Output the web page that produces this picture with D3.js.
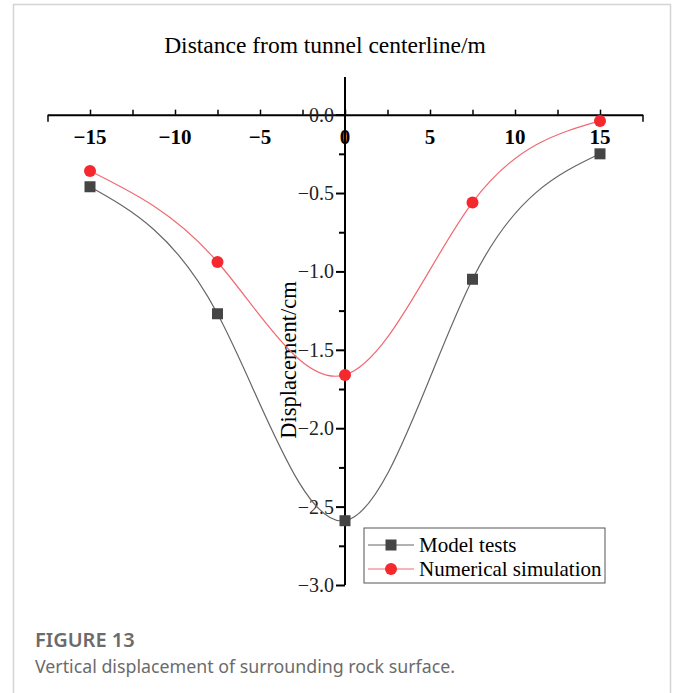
<!DOCTYPE html>
<html lang="en">
<head>
<meta charset="utf-8">
<title>Vertical displacement</title>
<script src="https://cdn.jsdelivr.net/npm/d3@7"></script>
<style>
body { margin: 0; background: #fff; }
.serif { font-family: "Liberation Serif", "Times New Roman", serif; }
.cap { font-family: "Noto Sans", "Open Sans", sans-serif; fill: #6b6b6b; }
</style>
</head>
<body>
<script>
// data
var distance = [-15, -7.5, 0, 7.5, 15];
var modelTests = [-0.46, -1.27, -2.59, -1.05, -0.25];
var numericalSim = [-0.36, -0.94, -1.66, -0.56, -0.04];
var xTicks = [-15, -10, -5, 0, 5, 10, 15];
var yTicks = [0, -0.5, -1, -1.5, -2, -2.5, -3];

var w = 680, h = 693;

var svg = d3.select("body").append("svg")
  .attr("width", w)
  .attr("height", h);

// card frame
svg.append("rect")
  .attr("x", 13.5).attr("y", 4.5)
  .attr("width", 657).attr("height", 720)
  .attr("fill", "none")
  .attr("stroke", "#d4d4d4")
  .attr("stroke-width", 1.5);

var xScale = d3.scaleLinear().domain([-17.5, 17.5]).range([47.5, 642.5]);
var yScale = d3.scaleLinear().domain([0.24, -3]).range([77, 585]);

var x0 = xScale(0), y0 = yScale(0);

// title on top
svg.append("text")
  .attr("class", "serif")
  .attr("x", 325).attr("y", 53)
  .attr("text-anchor", "middle")
  .attr("font-size", 23.5)
  .text("Distance from tunnel centerline/m");

// x axis (ticks up)
var xAxis = d3.axisTop(xScale)
  .tickValues(d3.range(-17.5, 17.6, 2.5))
  .tickSize(5)
  .tickSizeOuter(0)
  .tickFormat("");
var gx = svg.append("g")
  .attr("transform", "translate(0," + y0 + ")")
  .call(xAxis);
gx.select(".domain").attr("stroke-width", 2);
gx.selectAll(".tick line").attr("stroke-width", 1.5);
// end ticks drop down
gx.selectAll(".tick line")
  .filter(function(d) { return Math.abs(d) > 17; })
  .attr("y2", 7);

svg.append("g").selectAll("text")
  .data(xTicks)
  .enter().append("text")
  .attr("class", "serif")
  .attr("x", function(d) { return xScale(d); })
  .attr("y", y0 + 29)
  .attr("text-anchor", "middle")
  .attr("font-size", 21)
  .attr("font-weight", "bold")
  .text(function(d) { return d < 0 ? "\u2212" + (-d) : d; });

// y axis (ticks left)
var yAxis = d3.axisLeft(yScale)
  .tickValues(d3.range(0, -3.01, -0.25))
  .tickSize(0)
  .tickFormat("");
var gy = svg.append("g")
  .attr("transform", "translate(" + x0 + ",0)")
  .call(yAxis);
gy.select(".domain").attr("stroke-width", 2).attr("d", "M0," + yScale(0.24) + "V" + yScale(-3));
gy.selectAll(".tick line")
  .attr("stroke-width", 2)
  .attr("x2", function(d) { return Math.round(d * 4) % 2 === 0 ? -9 : -6; });

svg.append("g").selectAll("text")
  .data(yTicks)
  .enter().append("text")
  .attr("class", "serif")
  .attr("x", x0 - 11)
  .attr("y", function(d) { return yScale(d) + 7; })
  .attr("text-anchor", "end")
  .attr("font-size", 20)
  .attr("fill", "#222")
  .text(function(d) { return (d < 0 ? "\u2212" : "") + Math.abs(d).toFixed(1); });

svg.append("text")
  .attr("class", "serif")
  .attr("transform", "translate(296,360) rotate(-90)")
  .attr("text-anchor", "middle")
  .attr("font-size", 22.5)
  .text("Displacement/cm");

// curves
var line = d3.line()
  .x(function(d) { return xScale(d[0]); })
  .y(function(d) { return yScale(d[1]); })
  .curve(d3.curveNatural);

var modelPts = d3.zip(distance, modelTests);
var numPts = d3.zip(distance, numericalSim);

svg.append("path")
  .attr("d", line(modelPts))
  .attr("fill", "none")
  .attr("stroke", "#666")
  .attr("stroke-width", 1.2);

svg.append("path")
  .attr("d", line(numPts))
  .attr("fill", "none")
  .attr("stroke", "#f06a72")
  .attr("stroke-width", 1.2);

svg.append("g").selectAll("rect")
  .data(modelPts)
  .enter().append("rect")
  .attr("x", function(d) { return xScale(d[0]) - 5.5; })
  .attr("y", function(d) { return yScale(d[1]) - 5.5; })
  .attr("width", 11).attr("height", 11)
  .attr("fill", "#454545");

svg.append("g").selectAll("circle")
  .data(numPts)
  .enter().append("circle")
  .attr("cx", function(d) { return xScale(d[0]); })
  .attr("cy", function(d) { return yScale(d[1]); })
  .attr("r", 6)
  .attr("fill", "#f5282d");

// legend
var lg = svg.append("g").attr("transform", "translate(364,528)");
lg.append("rect")
  .attr("width", 241).attr("height", 55)
  .attr("fill", "#fff")
  .attr("stroke", "#555")
  .attr("stroke-width", 1);
lg.append("line").attr("x1", 4).attr("x2", 50).attr("y1", 17).attr("y2", 17)
  .attr("stroke", "#666").attr("stroke-width", 1.2);
lg.append("rect").attr("x", 21.5).attr("y", 11.5).attr("width", 11).attr("height", 11)
  .attr("fill", "#454545");
lg.append("line").attr("x1", 4).attr("x2", 50).attr("y1", 41).attr("y2", 41)
  .attr("stroke", "#f06a72").attr("stroke-width", 1.2);
lg.append("circle").attr("cx", 27).attr("cy", 41).attr("r", 6).attr("fill", "#f5282d");
lg.append("text").attr("class", "serif").attr("x", 55).attr("y", 24)
  .attr("font-size", 21).text("Model tests");
lg.append("text").attr("class", "serif").attr("x", 55).attr("y", 48)
  .attr("font-size", 21).text("Numerical simulation");

// caption
svg.append("text")
  .attr("class", "cap")
  .attr("x", 35).attr("y", 647)
  .attr("font-size", 20)
  .attr("font-weight", 600)
  .text("FIGURE 13");
svg.append("text")
  .attr("class", "cap")
  .attr("x", 35).attr("y", 673)
  .attr("font-size", 17.8)
  .text("Vertical displacement of surrounding rock surface.");
</script>
</body>
</html>
